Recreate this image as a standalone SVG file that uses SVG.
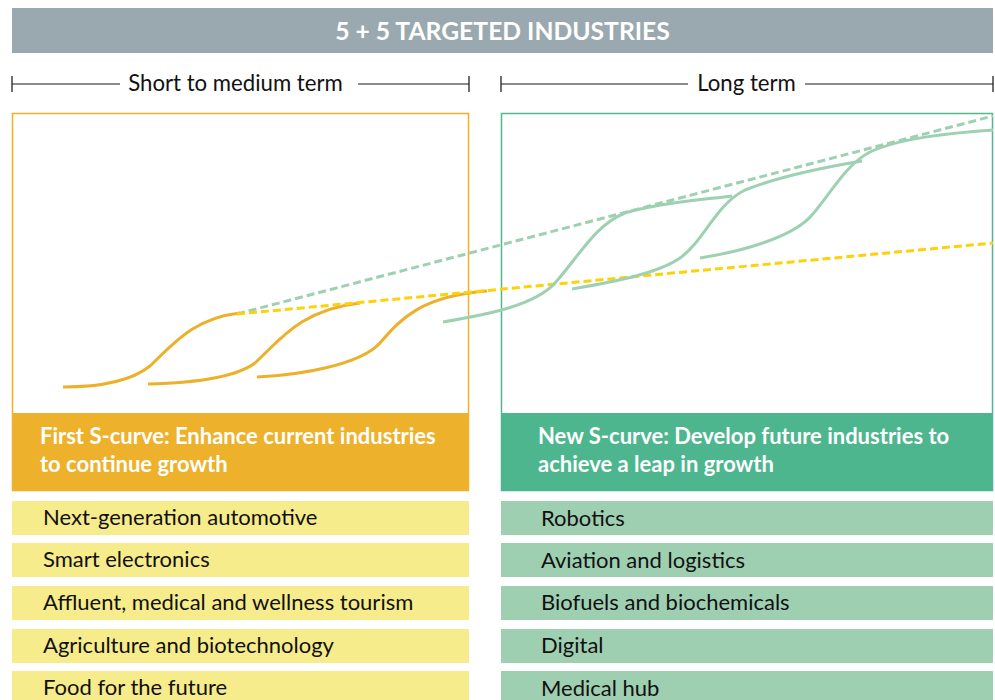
<svg xmlns="http://www.w3.org/2000/svg" width="995" height="700" viewBox="0 0 995 700">
<style>
text{font-family:Lato,"Open Sans","Liberation Sans",sans-serif}
.title{font-size:24.7px;font-weight:bold;fill:#fff}
.term{font-size:22.2px;fill:#111}
.band{font-size:22px;font-weight:bold;fill:#fff}
.item{font-size:22px;fill:#111}
.tl{stroke:#666;stroke-width:1.3;fill:none}
.tick{stroke:#222;stroke-width:1.3}
.oc{fill:none;stroke:#EDB02A;stroke-width:3}
.gc{fill:none;stroke:#9ED0B2;stroke-width:3}
.yl{fill:#F7EC8B}
.gl{fill:#9ECFB1}
</style>
<rect id="header" x="12" y="8" width="981" height="45" fill="#9AA9AF"/>
<text class="title" x="502.5" y="40" text-anchor="middle">5 + 5 TARGETED INDUSTRIES</text>

<g id="timeline-left">
<line class="tl" x1="12" y1="84" x2="120" y2="84"/>
<line class="tl" x1="358" y1="84" x2="469" y2="84"/>
<line class="tick" x1="12" y1="76" x2="12" y2="92"/>
<line class="tick" x1="469" y1="76" x2="469" y2="92"/>
<text class="term" x="235.5" y="91" text-anchor="middle">Short to medium term</text>
</g>
<g id="timeline-right">
<line class="tl" x1="501" y1="84" x2="688" y2="84"/>
<line class="tl" x1="805" y1="84" x2="993" y2="84"/>
<line class="tick" x1="501" y1="76" x2="501" y2="92"/>
<line class="tick" x1="993" y1="76" x2="993" y2="92"/>
<text class="term" x="746.5" y="91" text-anchor="middle">Long term</text>
</g>

<g id="first-s-curve">
<rect x="12.5" y="113.5" width="456" height="377" fill="#fff" stroke="#EDB02A" stroke-width="1.5"/>
<rect x="12" y="413" width="457" height="78" fill="#EDB12C"/>
<text class="band" x="40" y="444">First S-curve: Enhance current industries</text>
<text class="band" x="40" y="472">to continue growth</text>
</g>
<g id="new-s-curve">
<rect x="501.5" y="113.5" width="491" height="377" fill="#fff" stroke="#4FB890" stroke-width="1.5"/>
<rect x="501" y="413" width="492" height="78" fill="#4DB68E"/>
<text class="band" x="538" y="444">New S-curve: Develop future industries to</text>
<text class="band" x="538" y="472">achieve a leap in growth</text>
</g>

<g id="curves">
<line x1="237" y1="314" x2="993" y2="116" stroke="#9ED0B2" stroke-width="3" stroke-dasharray="8,4"/>
<path class="oc" d="M63,387 C100,387 130,382 150,366 C175,342 195,318 240,313"/>
<path class="oc" d="M148,384 C190,383 235,378 255,363 C280,340 300,310 360,303"/>
<path class="oc" d="M257,377 C300,375 360,365 380,343 C400,320 420,296 487,291"/>
<line x1="237" y1="314" x2="993" y2="243" stroke="#FDD20A" stroke-width="3" stroke-dasharray="8,4"/>
<path class="gc" d="M443,322 C490,314 535,305 555,283 C580,255 595,225 625,213 C660,203 700,200 732,196"/>
<path class="gc" d="M572,289 C620,281 660,272 680,258 C705,240 715,205 745,190 C775,178 820,168 862,161"/>
<path class="gc" d="M700,258 C750,250 795,235 812,215 C830,195 845,165 870,152 C900,138 950,133 993,130"/>
</g>

<g id="item-automotive"><rect class="yl" x="12" y="501" width="457" height="34"/><text class="item" x="43" y="524.5">Next-generation automotive</text></g>
<g id="item-electronics"><rect class="yl" x="12" y="543" width="457" height="34"/><text class="item" x="43" y="566.5">Smart electronics</text></g>
<g id="item-tourism"><rect class="yl" x="12" y="586" width="457" height="34"/><text class="item" x="43" y="609.5">Affluent, medical and wellness tourism</text></g>
<g id="item-agriculture"><rect class="yl" x="12" y="629" width="457" height="34"/><text class="item" x="43" y="652.5">Agriculture and biotechnology</text></g>
<g id="item-food"><rect class="yl" x="12" y="671" width="457" height="29"/><text class="item" x="43" y="694.5">Food for the future</text></g>

<g id="item-robotics"><rect class="gl" x="501" y="501" width="492" height="34"/><text class="item" x="541" y="525.5">Robotics</text></g>
<g id="item-aviation"><rect class="gl" x="501" y="543" width="492" height="34"/><text class="item" x="541" y="567.5">Aviation and logistics</text></g>
<g id="item-biofuels"><rect class="gl" x="501" y="586" width="492" height="34"/><text class="item" x="541" y="609.5">Biofuels and biochemicals</text></g>
<g id="item-digital"><rect class="gl" x="501" y="629" width="492" height="34"/><text class="item" x="541" y="652.5">Digital</text></g>
<g id="item-medical"><rect class="gl" x="501" y="671" width="492" height="29"/><text class="item" x="541" y="695.5">Medical hub</text></g>
</svg>
